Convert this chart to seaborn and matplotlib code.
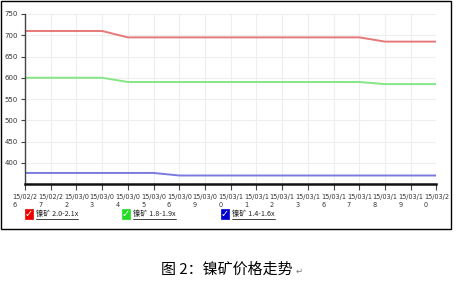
import matplotlib
matplotlib.use("Agg")
import matplotlib.pyplot as plt
import seaborn as sns
import pandas as pd
from matplotlib.patches import Rectangle
from matplotlib.lines import Line2D

dates = ["15/02/26", "15/02/27", "15/03/02", "15/03/03", "15/03/04", "15/03/05",
         "15/03/06", "15/03/09", "15/03/10", "15/03/11", "15/03/12", "15/03/13",
         "15/03/16", "15/03/17", "15/03/18", "15/03/19", "15/03/20"]
series_names = ["镍矿 2.0-2.1x", "镍矿 1.8-1.9x", "镍矿 1.4-1.6x"]
red_vals = [710, 710, 710, 710, 695, 695, 695, 695, 695, 695, 695, 695, 695, 695, 685, 685, 685]
green_vals = [600, 600, 600, 600, 590, 590, 590, 590, 590, 590, 590, 590, 590, 590, 585, 585, 585]
blue_vals = [376, 376, 376, 376, 376, 376, 370, 370, 370, 370, 370, 370, 370, 370, 370, 370, 370]
yticks = [400, 450, 500, 550, 600, 650, 700, 750]
line_colors = ["#e87878", "#84e684", "#7a7ae0"]
box_colors = ["#ee0000", "#22dd22", "#0000cc"]
caption = "图 2：镍矿价格走势"

sns.set_theme(style="white")
plt.rcParams['font.family'] = ['Noto Sans CJK SC', 'DejaVu Sans']

rows = []
for name, vals in zip(series_names, [red_vals, green_vals, blue_vals]):
    for i, (d, v) in enumerate(zip(dates, vals)):
        rows.append({"idx": i, "date": d, "price": v, "series": name})
df = pd.DataFrame(rows)

fig = plt.figure(figsize=(4.57, 2.86), dpi=100)
ax = fig.add_axes([25/457, 1-184/286, (436.5-25)/457, (184-14)/286])

sns.lineplot(data=df, x="idx", y="price", hue="series", palette=line_colors,
             linewidth=1.4, ax=ax, legend=False)

ax.set_xlim(0, len(dates)-1)
ax.set_ylim(350, 750)
ax.set_xticks(range(len(dates)))
ax.set_xticklabels([d[:7] + "\n" + d[7:] for d in dates], fontsize=4.7,
                   color="#333333", multialignment="left", linespacing=1.25,
                   family=["DejaVu Sans"])
ax.set_yticks(yticks)
ax.set_yticklabels([str(t) for t in yticks], fontsize=5.0, color="#333333",
                   family=["DejaVu Sans"])
ax.set_xlabel("")
ax.set_ylabel("")
ax.grid(True, color="#eeeeee", linewidth=0.8)
ax.tick_params(axis="x", length=4, width=0.8, color="#444444",
               direction="out", pad=3.5, bottom=True)
ax.tick_params(axis="y", length=3, width=0.8, color="#444444",
               direction="out", pad=2, left=True)
for s in ["top", "right"]:
    ax.spines[s].set_visible(False)
ax.spines["bottom"].set_color("#111111")
ax.spines["bottom"].set_linewidth(1.8)
ax.spines["left"].set_color("#444444")
ax.spines["left"].set_linewidth(1.0)

# outer border
fig.patches.append(Rectangle((1/457, 1-229/286), 450/457, 228/286,
                             transform=fig.transFigure, fill=False,
                             edgecolor="black", linewidth=1.0))

# legend
leg_x = [25, 122, 221]
for x0, name, c in zip(leg_x, series_names, box_colors):
    fig.patches.append(Rectangle((x0/457, 1-219/286), 8/457, 10/286,
                                 transform=fig.transFigure, facecolor=c,
                                 edgecolor=c, linewidth=0.5))
    fig.text((x0+4)/457, 1-214/286, "✓", color="white", fontsize=7,
             ha="center", va="center", family=["DejaVu Sans"], fontweight="bold")
    t = fig.text((x0+11)/457, 1-214/286, name, fontsize=5.2, color="#222222",
                 ha="left", va="center")
    fig.canvas.draw()
    bb = t.get_window_extent()
    fig.lines.append(Line2D([bb.x0/457, bb.x1/457], [1-218.5/286, 1-218.5/286],
                            transform=fig.transFigure, color="#222222",
                            linewidth=0.6))

fig.text(227/457, 1-270/286, caption, fontsize=10.8, color="black",
         ha="center", va="center")
fig.text(296/457, 1-271/286, "↵", fontsize=6, color="#777777",
         ha="left", va="center", family=["DejaVu Sans"])

fig.savefig("out.png", dpi=100)
